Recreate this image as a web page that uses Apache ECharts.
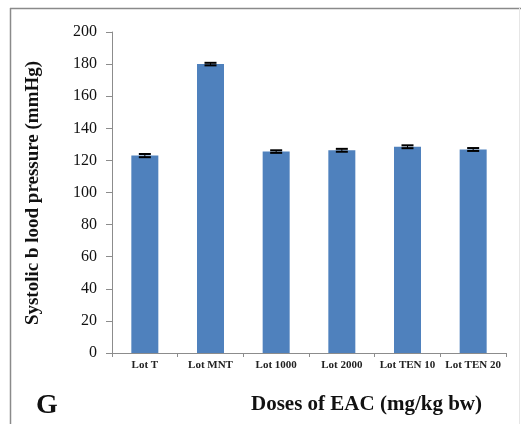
<!DOCTYPE html>
<html><head><meta charset="utf-8">
<script src="https://cdn.jsdelivr.net/npm/echarts@6/dist/echarts.min.js"></script>
<style>html,body{margin:0;padding:0;background:#fff;}#c{width:521px;height:424px;}</style>
</head><body><div id="c"></div>
<script>
var categories = ['Lot T', 'Lot MNT', 'Lot 1000', 'Lot 2000', 'Lot TEN 10', 'Lot TEN 20'];
var values = [123, 180, 125.5, 126.3, 128.5, 126.8];
var errors = [1.0, 0.8, 0.8, 0.9, 0.9, 0.9];
var yTicks = [0, 20, 40, 60, 80, 100, 120, 140, 160, 180, 200];

var chart = echarts.init(document.getElementById('c'));
var serif = '"Liberation Serif", "DejaVu Serif", serif';
chart.setOption({
  animation: false,
  backgroundColor: '#fff',
  grid: { left: 112, right: 15, top: 32, bottom: 71, containLabel: false },
  graphic: [
    { type: 'line', shape: { x1: 10.5, y1: 8, x2: 10.5, y2: 424 }, style: { stroke: '#8a8a8a', lineWidth: 1.5 } },
    { type: 'line', shape: { x1: 10, y1: 8.5, x2: 521, y2: 8.5 }, style: { stroke: '#8a8a8a', lineWidth: 1.5 } },
    { type: 'line', shape: { x1: 519.5, y1: 8, x2: 519.5, y2: 424 }, style: { stroke: '#e6e6e6', lineWidth: 1 } },
    { type: 'text', left: 36, top: 392, style: { text: 'G', font: 'bold 28px ' + serif, fill: '#111' } },
    { type: 'text', left: 251, top: 394, style: { text: 'Doses of EAC (mg/kg bw)', font: 'bold 21px ' + serif, fill: '#111' } },
    { type: 'text', x: 33, y: 193, rotation: Math.PI / 2, style: { text: 'Systolic b lood pressure (mmHg)', font: 'bold 19px ' + serif, fill: '#111', align: 'center', verticalAlign: 'middle' } }
  ],
  xAxis: {
    type: 'category',
    data: categories,
    axisLine: { lineStyle: { color: '#8c8c8c', width: 1 } },
    axisTick: { show: true, alignWithLabel: false, length: 4, lineStyle: { color: '#8c8c8c' } },
    axisLabel: { color: '#222', fontFamily: serif, fontSize: 11, fontWeight: 'bold', margin: 7, interval: 0 }
  },
  yAxis: {
    type: 'value', min: yTicks[0], max: yTicks[yTicks.length - 1], interval: 20,
    axisLine: { show: true, lineStyle: { color: '#8c8c8c', width: 1 } },
    axisTick: { show: true, length: 6, inside: false, lineStyle: { color: '#8c8c8c' } },
    splitLine: { show: false },
    axisLabel: { color: '#111', fontFamily: serif, fontSize: 16, margin: 15 }
  },
  series: [
    {
      type: 'bar', data: values, barWidth: 27,
      itemStyle: { color: '#4F81BD' }
    },
    {
      type: 'custom',
      data: values.map(function (v, i) { return [i, v - errors[i], v + errors[i]]; }),
      renderItem: function (params, api) {
        var x = api.value(0);
        var lo = api.coord([x, api.value(1)]);
        var hi = api.coord([x, api.value(2)]);
        var w = 6;
        return {
          type: 'group',
          children: [
            { type: 'line', shape: { x1: lo[0], y1: lo[1], x2: hi[0], y2: hi[1] }, style: { stroke: '#000', lineWidth: 1 } },
            { type: 'line', shape: { x1: hi[0] - w, y1: hi[1], x2: hi[0] + w, y2: hi[1] }, style: { stroke: '#000', lineWidth: 2 } },
            { type: 'line', shape: { x1: lo[0] - w, y1: lo[1], x2: lo[0] + w, y2: lo[1] }, style: { stroke: '#000', lineWidth: 2 } }
          ]
        };
      },
      z: 10
    }
  ]
});
</script></body></html>
